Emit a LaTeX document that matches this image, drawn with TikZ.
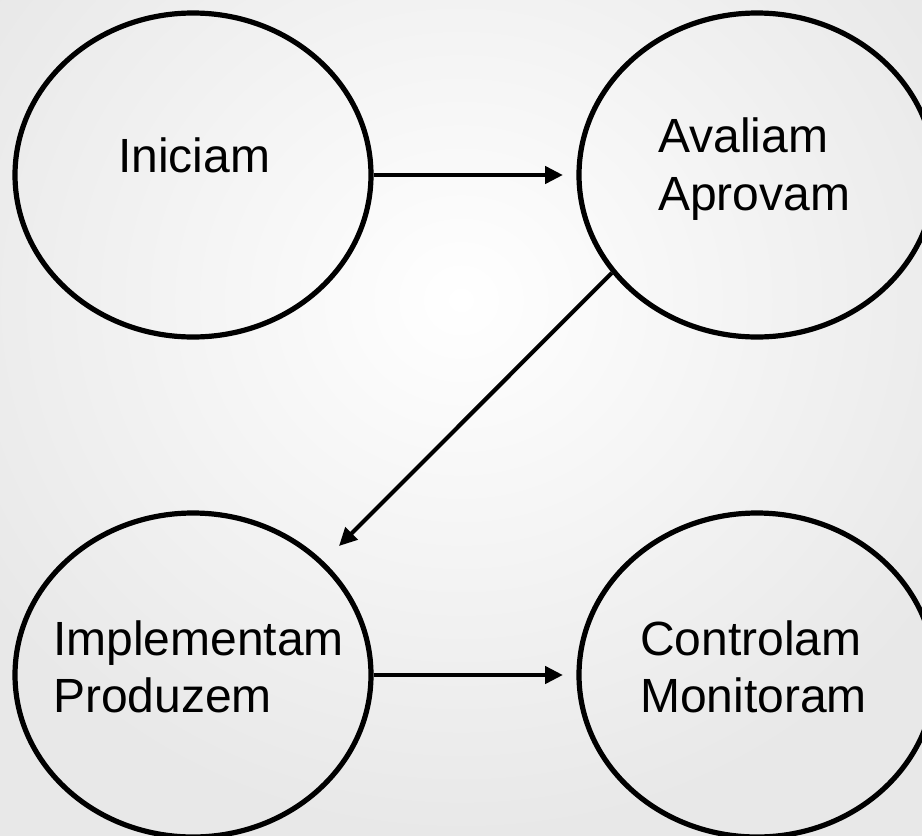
\documentclass[tikz,border=0pt]{standalone}
\usepackage{fontspec}
\setmainfont{Liberation Sans}
\usetikzlibrary{shapes.geometric,arrows.meta}
\tikzset{
  bubble/.style={draw=black, line width=5.2pt, ellipse, minimum width=356pt, minimum height=324pt, inner sep=0pt},
  word/.style={anchor=base west, inner sep=0pt, font=\fontsize{48}{58}\selectfont, text=black},
  conn/.style={draw=black, line width=4.6pt, -{Triangle[length=18pt,width=17pt]}}
}
\begin{document}
\begin{tikzpicture}[x=1pt,y=-1pt]
\useasboundingbox (0,0) rectangle (922,836);
\clip (0,0) rectangle (922,836);
\shade[inner color=white, outer color=black!9] (-110,-236) rectangle (1032,836);
% bubbles
\node[bubble] (ini) at (193,175) {};
\node[bubble] (ava) at (757,175) {};
\node[bubble] (imp) at (193,675) {};
\node[bubble] (con) at (757,675) {};
% texts
\node[word] (t1) at (118,172) {Iniciam};
\node[word] (t2) at (658,152) {Avaliam};
\node[word] (t3) at (658,210) {Aprovam};
\node[word] (t4) at (53,655) {Implementam};
\node[word] (t5) at (53,712) {Produzem};
\node[word] (t6) at (640,655) {Controlam};
\node[word] (t7) at (640,712) {Monitoram};
% connectors
\coordinate (e1) at (563,175);
\coordinate (e2) at (339,546);
\coordinate (e3) at (563,675);
\draw[conn] (ini.east) -- (e1);
\draw[conn, line width=4.1pt] (ava.214) -- (e2);
\draw[conn] (imp.east) -- (e3);
\end{tikzpicture}
\end{document}
